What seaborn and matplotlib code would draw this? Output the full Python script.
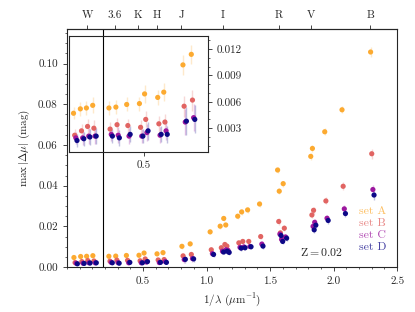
import matplotlib
matplotlib.use('Agg')
import matplotlib.pyplot as plt
import pandas as pd
import seaborn as sns
from matplotlib.lines import Line2D
from matplotlib.ticker import MultipleLocator, FormatStrFormatter

sns.set_style('ticks')
plt.rcParams.update({
    'font.family': 'serif',
    'font.serif': ['cmr10', 'DejaVu Serif'],
    'mathtext.fontset': 'cm',
    'axes.formatter.use_mathtext': True,
    'font.size': 8,
    'axes.linewidth': 0.8,
    'xtick.major.size': 3, 'ytick.major.size': 3,
    'xtick.minor.size': 1.5, 'ytick.minor.size': 1.5,
    'xtick.major.width': 0.6, 'ytick.major.width': 0.6,
    'xtick.minor.width': 0.5, 'ytick.minor.width': 0.5,
})

# 1/lambda of each point (set A position, other sets are dodged slightly right)
x_base = [-0.044, 0.009, 0.056, 0.105, 0.231, 0.285, 0.369, 0.468, 0.508, 0.610,
          0.657, 0.806, 0.871, 1.028, 1.107, 1.135, 1.151, 1.245, 1.276, 1.323,
          1.417, 1.559, 1.572, 1.603, 1.820, 1.833, 1.930, 2.066, 2.291]

set_a = [0.0047, 0.0052, 0.0053, 0.0056, 0.0053, 0.0054, 0.0057, 0.0058, 0.0069, 0.0065,
         0.0071, 0.0102, 0.0114, 0.0173, 0.0201, 0.0239, 0.0207, 0.0250, 0.0271, 0.0281,
         0.0310, 0.0477, 0.0373, 0.0410, 0.0544, 0.0583, 0.0665, 0.0773, 0.1057]
set_b = [0.0022, 0.0027, 0.0032, 0.0030, 0.0029, 0.0034, 0.0033, 0.0031, 0.0040, 0.0035,
         0.0037, 0.0055, 0.0062, 0.0085, 0.0095, 0.0111, 0.0103, 0.0119, 0.0126, 0.0126,
         0.0150, 0.0224, 0.0168, 0.0191, 0.0256, 0.0279, 0.0325, 0.0397, 0.0557]
set_c = [0.0019, 0.0019, 0.0021, 0.0021, 0.0023, 0.0022, 0.0021, 0.0021, 0.0025, 0.0022,
         0.0027, 0.0037, 0.0042, 0.0066, 0.0078, 0.0085, 0.0082, 0.0097, 0.0099, 0.0101,
         0.0113, 0.0162, 0.0136, 0.0148, 0.0200, 0.0220, 0.0240, 0.0286, 0.0381]
set_d = [0.0016, 0.0018, 0.0020, 0.0021, 0.0021, 0.0019, 0.0023, 0.0021, 0.0027, 0.0023,
         0.0023, 0.0038, 0.0040, 0.0062, 0.0074, 0.0078, 0.0072, 0.0093, 0.0095, 0.0100,
         0.0103, 0.0155, 0.0126, 0.0142, 0.0183, 0.0206, 0.0229, 0.0263, 0.0354]

err_a = [0.0007, 0.0008, 0.0008, 0.0009, 0.0008, 0.0008, 0.0008, 0.0008, 0.0010, 0.0009,
         0.0010, 0.0011, 0.0011, 0.0012, 0.0012, 0.0013, 0.0012, 0.0013, 0.0013, 0.0013,
         0.0014, 0.0015, 0.0015, 0.0015, 0.0016, 0.0016, 0.0017, 0.0018, 0.0025]
err_b = [0.0007, 0.0008, 0.0009, 0.0009, 0.0008, 0.0008, 0.0008, 0.0008, 0.0009, 0.0009,
         0.0009, 0.0012, 0.0012, 0.0012, 0.0012, 0.0012, 0.0012, 0.0013, 0.0013, 0.0013,
         0.0014, 0.0015, 0.0015, 0.0015, 0.0016, 0.0016, 0.0017, 0.0019, 0.0025]
err_c = [0.0007, 0.0008, 0.0009, 0.0009, 0.0008, 0.0009, 0.0009, 0.0008, 0.0010, 0.0009,
         0.0010, 0.0015, 0.0015, 0.0012, 0.0012, 0.0012, 0.0012, 0.0013, 0.0013, 0.0013,
         0.0014, 0.0015, 0.0015, 0.0015, 0.0016, 0.0016, 0.0017, 0.0018, 0.0022]
err_d = [0.0007, 0.0008, 0.0009, 0.0009, 0.0008, 0.0009, 0.0009, 0.0008, 0.0010, 0.0009,
         0.0010, 0.0016, 0.0016, 0.0012, 0.0012, 0.0012, 0.0012, 0.0013, 0.0013, 0.0013,
         0.0014, 0.0015, 0.0015, 0.0015, 0.0016, 0.0016, 0.0017, 0.0018, 0.0022]

set_names = ['set A', 'set B', 'set C', 'set D']
dodge = [0.0, 0.009, 0.018, 0.027]
colors = ['#fcaa30', '#e16462', '#9c179e', '#0d0887']

band_pos = [0.06, 0.28, 0.46, 0.61, 0.80, 1.13, 1.57, 1.82, 2.29]
band_labels = ['W', '3.6', 'K', 'H', 'J', 'I', 'R', 'V', 'B']

rows = []
for name, off, ys, es in zip(set_names, dodge, [set_a, set_b, set_c, set_d],
                             [err_a, err_b, err_c, err_d]):
    for xb, y, e in zip(x_base, ys, es):
        rows.append({'x': xb + off, 'y': y, 'err': e, 'set': name})
df = pd.DataFrame(rows)
palette = dict(zip(set_names, colors))


def draw_points(a):
    for name in set_names:
        d = df[df['set'] == name]
        a.errorbar(d['x'], d['y'], yerr=d['err'], fmt='none', ecolor=palette[name],
                   alpha=0.25, elinewidth=1.0, zorder=2)
    sns.scatterplot(data=df, x='x', y='y', hue='set', palette=palette, s=14,
                    edgecolor='none', linewidth=0, legend=False, ax=a, zorder=3)
    a.axvline(0.185, color='k', lw=0.8, zorder=1)
    a.set_xlabel('')
    a.set_ylabel('')


fig = plt.figure(figsize=(4.15, 3.12), dpi=100)
ax = fig.add_axes([0.161, 0.144, 0.796, 0.763])
draw_points(ax)
ax.set_xlim(-0.1, 2.5)
ax.set_ylim(0, 0.117)
ax.set_xticks([0.5, 1.0, 1.5, 2.0, 2.5])
ax.xaxis.set_minor_locator(MultipleLocator(0.1))
ax.yaxis.set_major_locator(MultipleLocator(0.02))
ax.yaxis.set_minor_locator(MultipleLocator(0.005))
ax.xaxis.set_major_formatter(FormatStrFormatter('%.1f'))
ax.yaxis.set_major_formatter(FormatStrFormatter('%.2f'))
ax.set_xlabel(r'$1/\lambda$ ($\mu$m$^{-1}$)')
ax.set_ylabel(r'$\max\,|\Delta\mu|$ (mag)')

top = ax.secondary_xaxis('top')
top.set_xticks(band_pos, band_labels)
top.xaxis.set_minor_locator(plt.NullLocator())

handles = [Line2D([], [], lw=0, marker=None) for _ in set_names]
leg = ax.legend(handles, set_names, labelcolor=colors, handlelength=0, handletextpad=0,
                frameon=False, loc='lower right', bbox_to_anchor=(1.0, 0.02),
                labelspacing=0.15, fontsize=8.5)
for t in leg.get_texts():
    t.set_ha('right')
    t.set_alpha(0.75)
ax.text(0.836, 0.063, r'$\mathrm{Z} = 0.02$', transform=ax.transAxes, ha='right',
        va='center', fontsize=8.5)

ins = fig.add_axes([0.166, 0.513, 0.335, 0.372])
draw_points(ins)
ins.set_xlim(-0.08, 1.0)
ins.set_ylim(0.0003, 0.0135)
ins.set_xticks([0.5])
ins.xaxis.set_major_formatter(FormatStrFormatter('%.1f'))
ins.yaxis.tick_right()
ins.set_yticks([0.003, 0.006, 0.009, 0.012])
ins.yaxis.set_minor_locator(MultipleLocator(0.001))
ins.yaxis.set_major_formatter(FormatStrFormatter('%.3f'))

fig.savefig('out.png', dpi=100)
